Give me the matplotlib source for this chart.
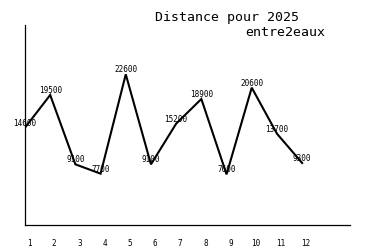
import matplotlib
matplotlib.use("Agg")
import matplotlib.pyplot as plt
from matplotlib.transforms import ScaledTranslation

months = list(range(1, 13))
distances = [14600, 19500, 9100, 7700, 22600, 9100, 15200, 18900, 7600, 20600, 13700, 9300]
month_labels = [str(m) for m in months]
title = "Distance pour 2025"
subtitle = "entre2eaux"

plt.rc("font", family="DejaVu Sans Mono")

fig = plt.figure(figsize=(3.75, 2.5), dpi=100)
ax = fig.add_axes([25 / 375, 25 / 250, 325 / 375, 200 / 250])

ax.plot(months, distances, color="black", lw=1.5, solid_joinstyle="miter")
for m, d in zip(months, distances):
    ax.text(m, d, str(d), ha="center", va="bottom", fontsize=5.5)

ax.set_xlim(1, 13.9)
ax.set_ylim(0, 30000)
ax.spines["top"].set_visible(False)
ax.spines["right"].set_visible(False)
ax.spines["left"].set_linewidth(0.9)
ax.spines["bottom"].set_linewidth(0.9)
ax.set_yticks([])
ax.set_xticks(months)
ax.set_xticklabels(month_labels, fontsize=5.5)
ax.tick_params(axis="x", length=0, pad=10)
offset = ScaledTranslation(4 / 100, 0, fig.dpi_scale_trans)
for lbl in ax.get_xticklabels():
    lbl.set_transform(lbl.get_transform() + offset)

fig.text(155 / 375, 1 - 18 / 250, title, fontsize=9.5, va="center", ha="left")
fig.text(245 / 375, 1 - 33 / 250, subtitle, fontsize=9.5, va="center", ha="left")

fig.savefig("out.png", dpi=100)
